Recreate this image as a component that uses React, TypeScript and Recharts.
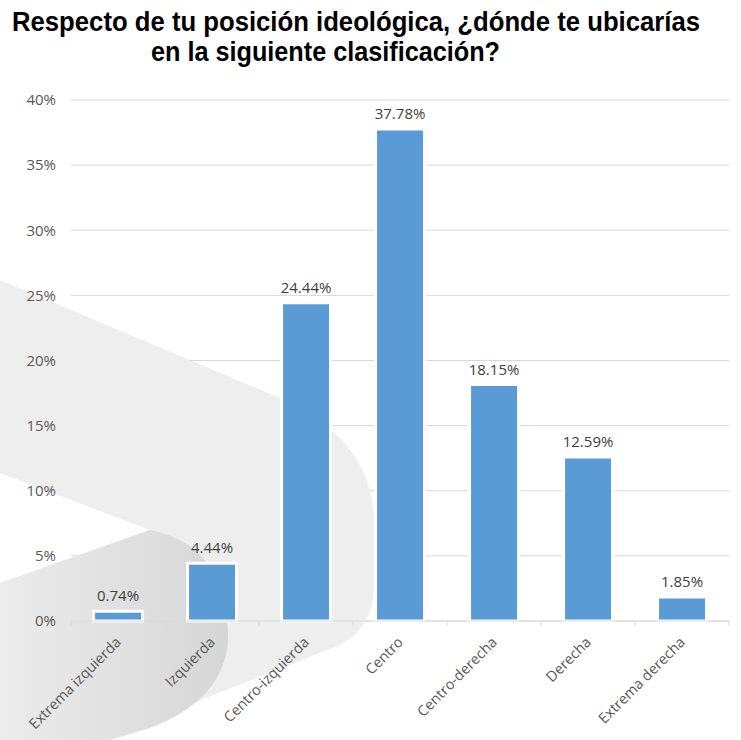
import { BarChart, Bar, XAxis, YAxis, CartesianGrid, LabelList, Customized } from "recharts";

const CATEGORIES = [
  "Extrema izquierda",
  "Izquierda",
  "Centro-izquierda",
  "Centro",
  "Centro-derecha",
  "Derecha",
  "Extrema derecha",
];
const VALUES = [0.74, 4.44, 24.44, 37.78, 18.15, 12.59, 1.85];
const Y_TICKS = [0, 5, 10, 15, 20, 25, 30, 35, 40];

const data = CATEGORIES.map((name, i) => ({ name, value: VALUES[i] }));

const FONT = "'Open Sans', sans-serif";
const GRID = "#d9d9d9";
const TEXT = "#595959";

// decorative swoosh in the background
function Swoosh() {
  return (
    <g>
      <defs>
        <linearGradient id="dark" x1="0" y1="0" x2="1" y2="0">
          <stop offset="0%" stopColor="#ececec" />
          <stop offset="100%" stopColor="#d6d6d6" />
        </linearGradient>
      </defs>
      <path
        d="M0,280 L280,398 Q372,440 374,520 L374,590 Q372,628 340,645 L100,740 L0,740 L0,583 L150,530 L0,473 Z"
        fill="#eeeeee"
      />
      <path
        d="M0,583 L150,530 Q228,545 228,640 Q224,700 150,728 L110,740 L0,740 Z"
        fill="url(#dark)"
      />
    </g>
  );
}

function XTick(props: any) {
  const { x, y, payload, index, visibleTicksCount } = props;
  const half = payload.offset ?? 47;
  const tx = x + 4;
  const ty = y + 14;
  return (
    <g>
      <line x1={x - half} y1={y - 8} x2={x - half} y2={y - 3} stroke={GRID} />
      {index === visibleTicksCount - 1 && (
        <line x1={x + half} y1={y - 8} x2={x + half} y2={y - 3} stroke={GRID} />
      )}
      <text
        x={tx}
        y={ty}
        transform={`rotate(-45, ${tx}, ${ty})`}
        textAnchor="end"
        fontSize={14.5}
        fontFamily={FONT}
        fill={TEXT}
      >
        {payload.value}
      </text>
    </g>
  );
}

export default function App() {
  return (
    <div style={{ position: "absolute", left: 0, top: 0, width: 741, height: 740, background: "#fff" }}>
      <BarChart
        width={741}
        height={740}
        data={data}
        margin={{ top: 100, right: 12, bottom: 0, left: 11 }}
        barCategoryGap="24%"
      >
        <Customized component={Swoosh} />
        <CartesianGrid vertical={false} stroke={GRID} />
        <YAxis
          width={60}
          domain={[0, 40]}
          ticks={Y_TICKS}
          tickFormatter={(v) => `${v}%`}
          axisLine={false}
          tickLine={false}
          tickMargin={9}
          tick={{ fontSize: 15, fontFamily: FONT, fill: TEXT }}
        />
        <XAxis
          dataKey="name"
          interval={0}
          axisLine={{ stroke: GRID }}
          tickLine={false}
          height={119}
          tick={<XTick />}
        />
        <Bar dataKey="value" fill="#5b9bd5" stroke="#ffffff" strokeWidth={3} isAnimationActive={false}>
          <LabelList
            dataKey="value"
            position="top"
            offset={10}
            formatter={(v: any) => `${Number(v).toFixed(2)}%`}
            style={{ fontSize: 15, fontFamily: FONT, fill: "#404040" }}
          />
        </Bar>
      </BarChart>
      <svg
        width={741}
        height={80}
        style={{ position: "absolute", left: 0, top: 0 }}
        fontFamily="'Liberation Sans', Arial, sans-serif"
        fontWeight={700}
        fontSize={27}
      >
        <text x={12} y={31} textLength={688} lengthAdjust="spacingAndGlyphs" fill="#000">
          Respecto de tu posición ideológica, ¿dónde te ubicarías
        </text>
        <text x={151} y={61} textLength={349} lengthAdjust="spacingAndGlyphs" fill="#000">
          en la siguiente clasificación?
        </text>
      </svg>
    </div>
  );
}
